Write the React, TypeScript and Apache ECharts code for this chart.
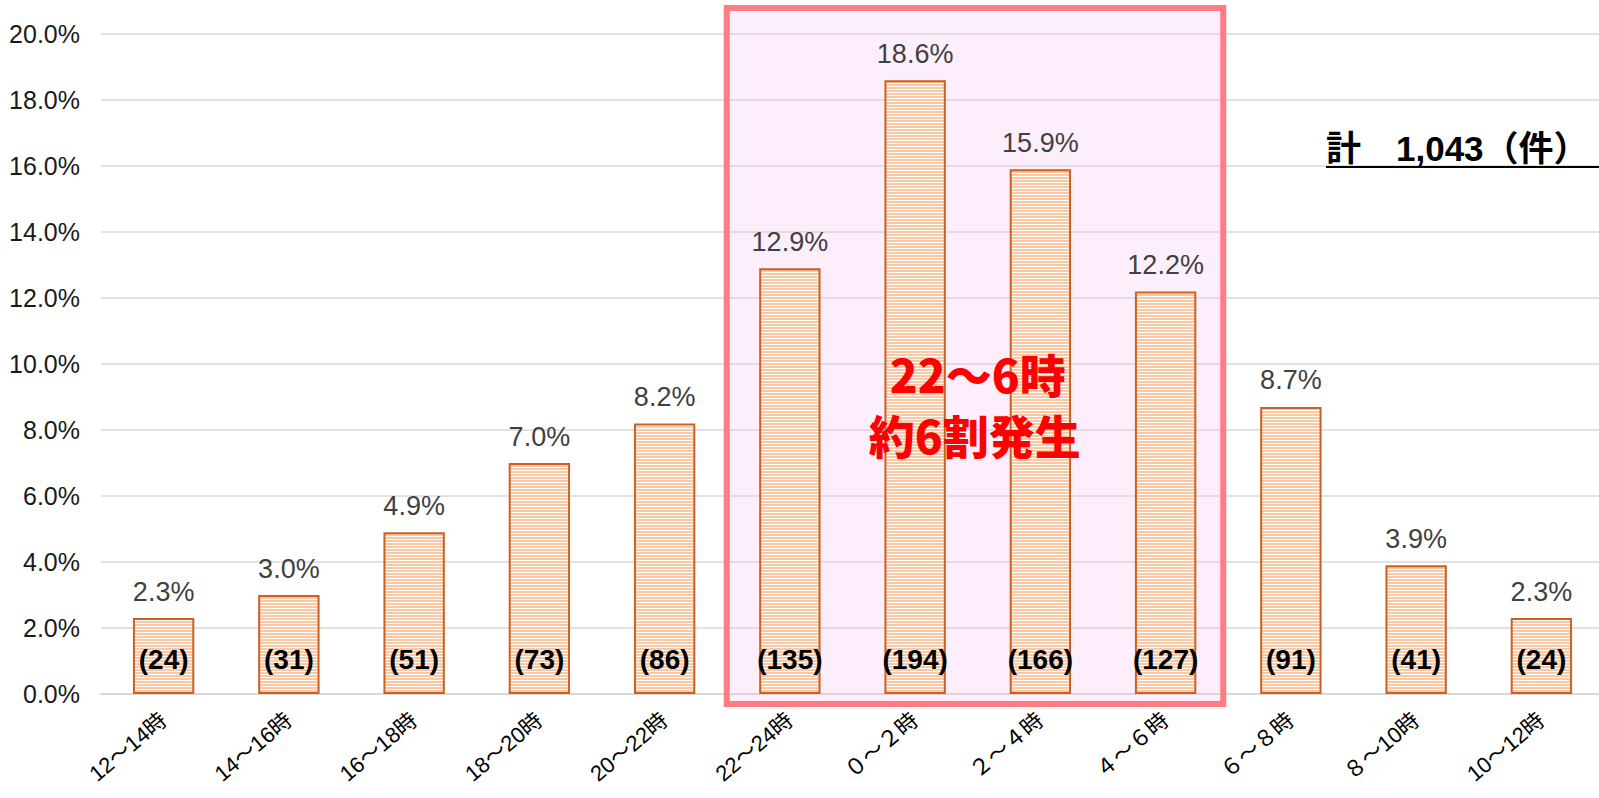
import { useEffect, useRef } from 'react';
import * as echarts from 'echarts';

const categories = ['12～14時', '14～16時', '16～18時', '18～20時', '20～22時', '22～24時', '０～２時', '２～４時', '４～６時', '６～８時', '８～10時', '10～12時'];
const percentages = [2.3, 3.0, 4.9, 7.0, 8.2, 12.9, 18.6, 15.9, 12.2, 8.7, 3.9, 2.3];
const counts = [24, 31, 51, 73, 86, 135, 194, 166, 127, 91, 41, 24];
const totalLabel = '計　1,043（件）';
const highlightFrom = '22～24時';
const highlightTo = '４～６時';
const highlightLines = ['22～6時', '約6割発生'];

const LATIN = "'Liberation Sans', 'Noto Sans CJK JP', sans-serif";
const JP = "'Liberation Sans', 'Noto Sans CJK JP', sans-serif";

function makeStripes(): HTMLCanvasElement {
  const c = document.createElement('canvas');
  c.width = 4;
  c.height = 3;
  const ctx = c.getContext('2d')!;
  ctx.fillStyle = '#F9C8A4';
  ctx.fillRect(0, 0, 4, 2);
  ctx.fillStyle = '#FFFFFF';
  ctx.fillRect(0, 2, 4, 1);
  return c;
}

export default function App() {
  const ref = useRef<HTMLDivElement>(null);

  useEffect(() => {
    if (!ref.current) return;
    const chart = echarts.init(ref.current, null, { renderer: 'svg' });
    const stripes = makeStripes();

    chart.setOption({
      animation: false,
      backgroundColor: '#ffffff',
      grid: { left: 101, right: -5, top: 34, bottom: 104, containLabel: false, outerBoundsMode: 'none' },
      xAxis: {
        type: 'category',
        data: categories,
        axisLine: { show: true, lineStyle: { color: '#d9d9d9', width: 2 } },
        axisTick: { show: false },
        axisLabel: {
          interval: 0,
          rotate: 40,
          margin: 23,
          fontSize: 22,
          color: '#000000',
          fontFamily: JP,
        },
      },
      yAxis: {
        type: 'value',
        min: 0,
        max: 20,
        interval: 2,
        axisLine: { show: false },
        axisTick: { show: false },
        splitLine: { lineStyle: { color: '#d9d9d9', width: 1.5 } },
        axisLabel: {
          margin: 21,
          fontSize: 25,
          color: '#1a1a1a',
          fontFamily: LATIN,
          formatter: (v: number) => v.toFixed(1) + '%',
        },
      },
      series: [
        {
          type: 'bar',
          data: percentages,
          barWidth: '49%',
          z: 3,
          itemStyle: {
            color: { image: stripes, repeat: 'repeat' },
            borderColor: '#CC6022',
            borderWidth: 2,
          },
          label: {
            show: true,
            position: 'top',
            distance: 13,
            fontSize: 27,
            color: '#404040',
            fontFamily: LATIN,
            formatter: (p: any) => Number(p.value).toFixed(1) + '%',
          },
        },
        {
          type: 'bar',
          data: percentages,
          barWidth: '49%',
          barGap: '-100%',
          silent: true,
          z: 4,
          itemStyle: { color: 'rgba(0,0,0,0)' },
          label: {
            show: true,
            position: 'insideBottom',
            distance: 21,
            fontSize: 28,
            fontWeight: 'bold',
            color: '#000000',
            fontFamily: LATIN,
            formatter: (p: any) => '(' + counts[p.dataIndex] + ')',
          },
        },
      ],
    });

    const i0 = categories.indexOf(highlightFrom);
    const i1 = categories.indexOf(highlightTo);
    const a = chart.convertToPixel({ gridIndex: 0 }, [0, 0]) as number[];
    const b = chart.convertToPixel({ gridIndex: 0 }, [1, 20]) as number[];
    const band = b[0] - a[0];
    const yTop = b[1];
    const yZero = a[1];
    const c0 = (chart.convertToPixel({ gridIndex: 0 }, [i0, 0]) as number[])[0];
    const c1 = (chart.convertToPixel({ gridIndex: 0 }, [i1, 0]) as number[])[0];
    const left = c0 - band / 2 - 0.5;
    const right = c1 + band / 2 - 5;
    const mid = (chart.convertToPixel({ gridIndex: 0 }, [i0 + 1, 0]) as number[])[0] + band / 2;

    chart.setOption({
      graphic: [
        {
          type: 'rect',
          z: 1,
          silent: true,
          shape: { x: left, y: yTop - 26, width: right - left, height: yZero + 10 - (yTop - 26) },
          style: { fill: 'rgba(245,190,240,0.25)', stroke: '#FF7C80', lineWidth: 6 },
        },
        {
          type: 'text',
          z: 10,
          silent: true,
          x: mid,
          y: 373,
          style: {
            text: highlightLines[0],
            fill: '#FF0000',
            fontSize: 46,
            fontWeight: 900,
            fontFamily: "'Noto Sans CJK JP', sans-serif",
            textAlign: 'center',
            textVerticalAlign: 'middle',
          },
        },
        {
          type: 'text',
          z: 10,
          silent: true,
          x: mid - 3,
          y: 434,
          style: {
            text: highlightLines[1],
            fill: '#FF0000',
            fontSize: 46,
            fontWeight: 900,
            fontFamily: "'Noto Sans CJK JP', sans-serif",
            textAlign: 'center',
            textVerticalAlign: 'middle',
          },
        },
        {
          type: 'text',
          z: 10,
          silent: true,
          x: 1326,
          y: 148,
          style: {
            text: totalLabel,
            fill: '#000000',
            fontSize: 35,
            fontWeight: 'bold',
            fontFamily: JP,
            textAlign: 'left',
            textVerticalAlign: 'middle',
          },
        },
        {
          type: 'line',
          z: 10,
          silent: true,
          shape: { x1: 1326, y1: 167, x2: 1599, y2: 167 },
          style: { stroke: '#000000', lineWidth: 2 },
        },
      ],
    });

    return () => chart.dispose();
  }, []);

  return <div ref={ref} style={{ position: 'fixed', left: 0, top: 0, width: '1599px', height: '798px' }} />;
}
